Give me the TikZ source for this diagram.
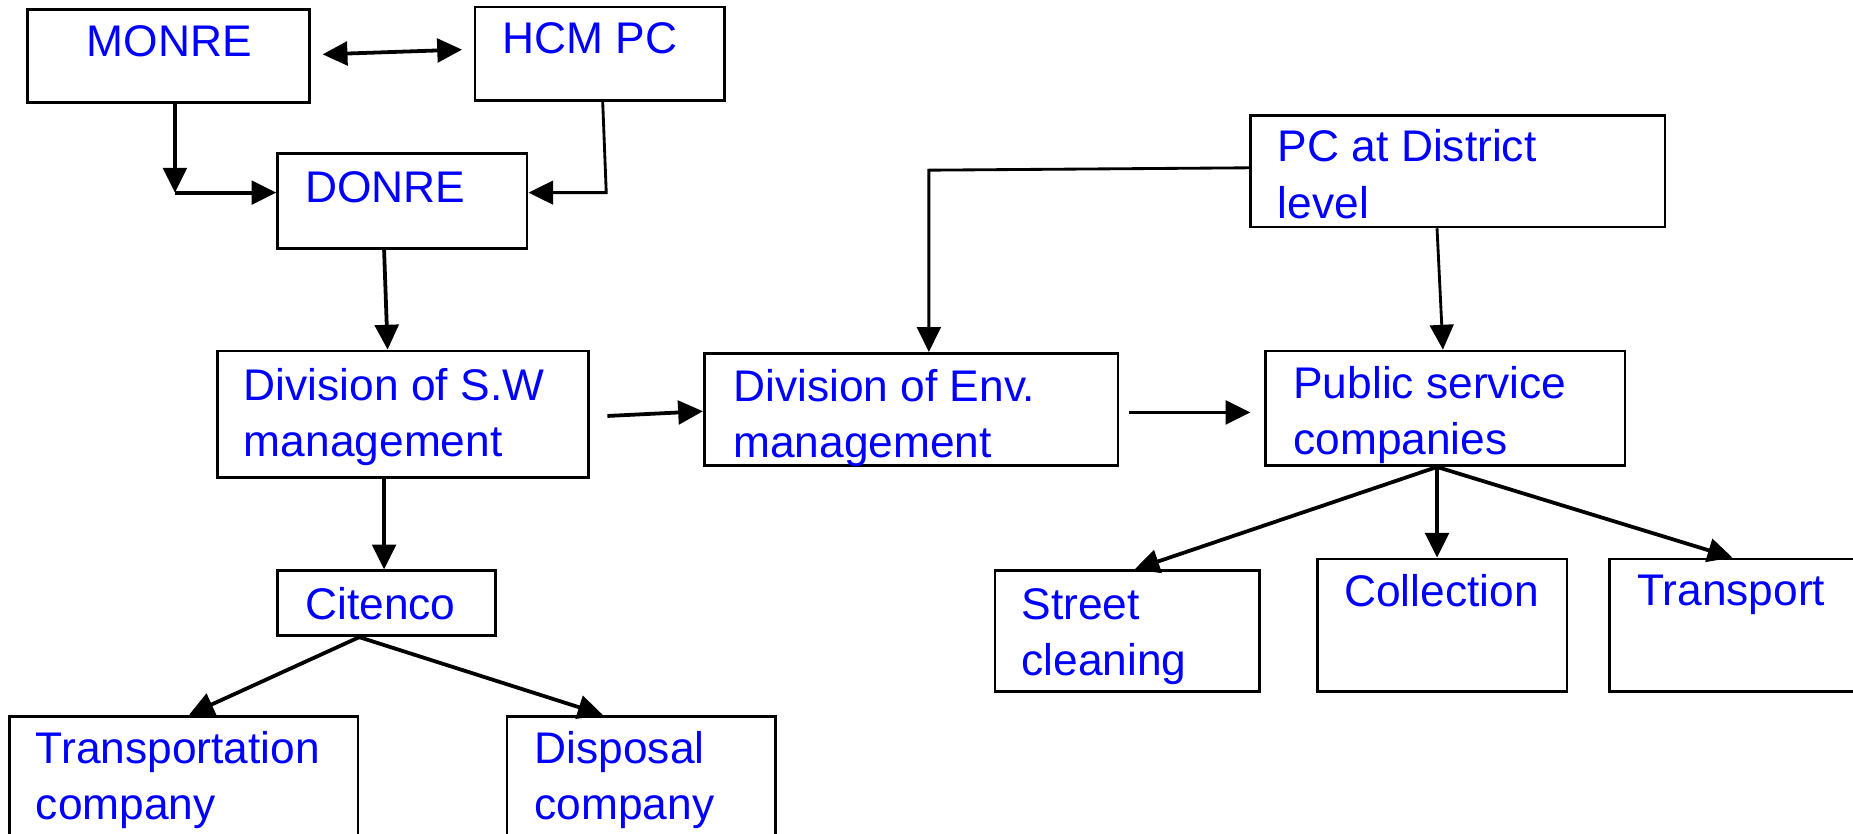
\documentclass[tikz,border=0pt]{standalone}
\usepackage{fontspec}
\setmainfont{Liberation Sans}
\usetikzlibrary{arrows.meta,fit,calc}
\begin{document}
\begin{tikzpicture}[x=0.5pt,y=-0.5pt,
  box/.style={draw=black,line width=1.15pt,inner sep=0pt,rectangle,fit={#1}},
  lbl/.style={text=blue,font=\fontsize{18.75}{23.75}\selectfont,anchor=base west,inner sep=0pt,align=left},
  arr/.style={line width=1.6pt,-{Triangle[length=10.5pt,width=10pt]}},
  arrtwo/.style={line width=1.6pt,{Triangle[length=10.5pt,width=10pt]}-{Triangle[length=10.5pt,width=10pt]}}]
\useasboundingbox (0,0) rectangle (1568,705);
% boxes
\node[box={(23,8)(262,87)}] (monre) {};
\node[box={(402,6)(613,85)}] (hcm) {};
\node[box={(235,130)(446,210)}] (donre) {};
\node[box={(184,297)(498,404)}] (divsw) {};
\node[box={(596,299)(946,394)}] (divenv) {};
\node[box={(1058,98)(1409,192)}] (pcd) {};
\node[box={(1071,297)(1375,394)}] (psc) {};
\node[box={(842,483)(1066,585)}] (street) {};
\node[box={(1115,473)(1326,585)}] (coll) {};
\node[box={(1362,473)(1590,585)}] (trans) {};
\node[box={(235,483)(419,538)}] (citenco) {};
\node[box={(8,606)(303,722)}] (tco) {};
\node[box={(429,606)(656,722)}] (disp) {};
% labels (multi-line labels anchored at the last baseline)
\node[lbl] (monre-t) at (73,48) {MONRE};
\node[lbl] (hcm-t) at (425,45) {HCM PC};
\node[lbl] (donre-t) at (258,171) {DONRE};
\node[lbl] (divsw-t) at (206,386.5) {Division of S.W\\management};
\begin{scope}
\clip (divenv.south west) rectangle (divenv.north east);
\node[lbl] (divenv-t) at (620,387.5) {Division of Env.\\management};
\end{scope}
\node[lbl] (pcd-t) at (1081,184.5) {PC at District\\level};
\node[lbl] (psc-t) at (1094,384.5) {Public service\\companies};
\node[lbl] (street-t) at (864,571.5) {Street\\cleaning};
\node[lbl] (coll-t) at (1137,513) {Collection};
\node[lbl] (trans-t) at (1385,512) {Transport};
\node[lbl] (citenco-t) at (258,524) {Citenco};
\node[lbl] (tco-t) at (30,693.5) {Transportation\\company};
\node[lbl] (disp-t) at (452,693.5) {Disposal\\company};
% connectors
\coordinate (d1) at (273,46);
\coordinate (d2) at (391,42);
\draw[arrtwo] (d1) -- (d2);
\coordinate (c1) at (148,163);
\draw[arr] (148,0 |- monre.south) -- (c1);
\draw[arr] (c1) -- (donre.west |- c1);
\coordinate (c2) at (513,163);
\draw[arr,line width=1.2pt] (510,0 |- hcm.south) -- (c2) -- (donre.east |- c2);
\draw[arr] (325,0 |- donre.south) -- (328,0 |- divsw.north);
\coordinate (c3) at (514,352);
\draw[arr] (c3) -- (divenv.west |- 0,348);
\coordinate (c4) at (786,144);
\draw[arr,line width=1.2pt] (pcd.west |- 0,142) -- (c4) -- (c4 |- divenv.north);
\coordinate (c5) at (955,349);
\coordinate (c6) at (1058,349);
\draw[arr] (c5) -- (c6);
\draw[arr,line width=1.2pt] (1216,0 |- pcd.south) -- (1221,0 |- psc.north);
\coordinate (c7) at (1216,0 |- psc.south);
\draw[arr] (c7) -- (960,0 |- street.north);
\draw[arr] (c7) -- (c7 |- coll.north);
\draw[arr] (c7) -- (1466,0 |- trans.north);
\draw[arr] (325,0 |- divsw.south) -- (325,0 |- citenco.north);
\coordinate (c8) at (304,0 |- citenco.south);
\draw[arr] (c8) -- (160,0 |- tco.north);
\draw[arr] (c8) -- (510,0 |- disp.north);
\end{tikzpicture}
\end{document}
